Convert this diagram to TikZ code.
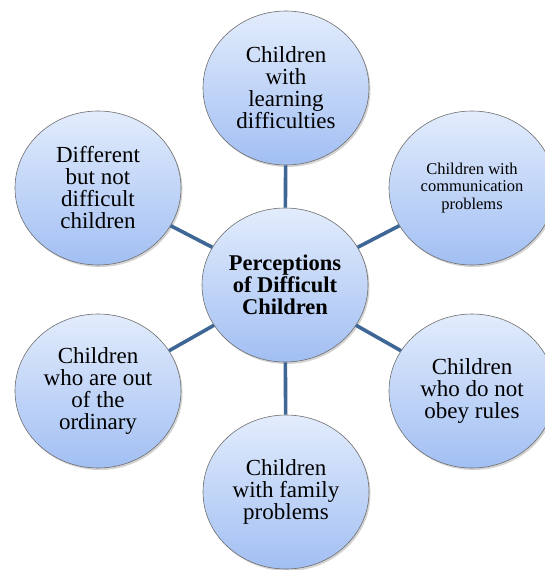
\documentclass[tikz,border=0pt]{standalone}
\usepackage{fontspec}
\setmainfont{Liberation Serif}
\usetikzlibrary{shapes.geometric,shadows}
\definecolor{bubbletop}{HTML}{E2ECFC}
\definecolor{bubblebottom}{HTML}{A2BFF3}
\definecolor{spoke}{HTML}{3E6796}
\definecolor{rim}{HTML}{6E6E6E}

\begin{document}
\begin{tikzpicture}[x=1pt,y=-1pt,
                    main node/.style={ellipse,draw=rim,line width=0.6pt,top color=bubbletop,bottom color=bubblebottom,
                      minimum width=166pt,minimum height=154pt,inner sep=0pt,align=center,
                      font=\fontsize{23}{22}\selectfont,
                      drop shadow={shadow xshift=1.5pt,shadow yshift=-2pt,opacity=0.35}},
                    small node/.style={main node,font=\fontsize{16.5}{17.5}\selectfont},
                    spoke line/.style={draw=spoke,line width=3.6pt}]
\useasboundingbox (0,0) rectangle (545,570);
\clip (0,0) rectangle (545,570);

\node[main node,font=\fontsize{22.5}{22}\selectfont\bfseries] (hub) at (285,285) {Perceptions\\of Difficult\\Children};

\node[main node] (learning) at (286,88) {Children\\with\\learning\\difficulties};
\node[small node] (talk) at (472,188) {Children with\\communication\\problems};
\node[main node] (rules) at (472,391) {Children\\who do not\\obey rules};
\node[main node] (family) at (286,492) {Children\\with family\\problems};
\node[main node] (ordinary) at (98,391) {Children\\who are out\\of the\\ordinary};
\node[main node] (different) at (98,188) {Different\\but not\\difficult\\children};

\foreach \n in {learning,talk,rules,family,ordinary,different}
   \draw[spoke line] (hub)--(\n);
\end{tikzpicture}
\end{document}
